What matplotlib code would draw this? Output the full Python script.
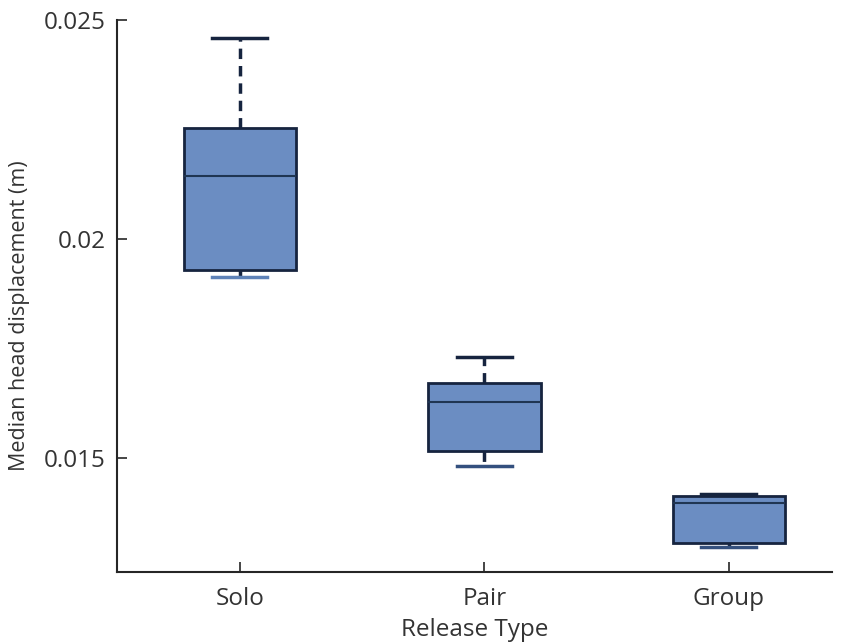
import matplotlib
matplotlib.use("Agg")
import matplotlib.pyplot as plt

plt.rcParams['font.family'] = ['Open Sans', 'DejaVu Sans']

# box statistics per release type (m)
groups = ['Solo', 'Pair', 'Group']
whisker_lo = [0.01913, 0.01482, 0.01297]
q1 = [0.01929, 0.01516, 0.01306]
median = [0.02144, 0.01628, 0.01397]
q3 = [0.02253, 0.01671, 0.01413]
whisker_hi = [0.02459, 0.01731, 0.01418]

stats = []
for i, name in enumerate(groups):
    stats.append({
        'label': name,
        'whislo': whisker_lo[i],
        'q1': q1[i],
        'med': median[i],
        'q3': q3[i],
        'whishi': whisker_hi[i],
        'fliers': [],
    })

fig = plt.figure(figsize=(8.6, 6.44), dpi=100)
ax = fig.add_axes([0.136, 0.112, 0.831, 0.857])

navy = '#16243f'
fill = '#6b8dc2'

bp = ax.bxp(stats, positions=[1, 2, 3], widths=0.46, capwidths=0.225,
            patch_artist=True, showfliers=False,
            boxprops=dict(facecolor=fill, edgecolor=navy, linewidth=2),
            medianprops=dict(color='#1f3552', linewidth=1.5),
            whiskerprops=dict(color=navy, linewidth=2.5, linestyle=(0, (3, 2))),
            capprops=dict(color=navy, linewidth=2.5))

# lower caps come out lighter
for cap in bp['caps'][0::2]:
    cap.set_color('#34507e')
bp['caps'][0].set_color('#5e82b8')

ax.set_xlim(0.497, 3.42)
ax.set_ylim(0.012397, 0.025)
ax.set_yticks([0.015, 0.02, 0.025])
ax.set_yticklabels(['0.015', '0.02', '0.025'])
ax.set_xticks([1, 2, 3])
ax.set_xticklabels(groups)

for side in ['top', 'right']:
    ax.spines[side].set_visible(False)
for side in ['left', 'bottom']:
    ax.spines[side].set_color('#262626')
    ax.spines[side].set_linewidth(1.5)

ax.tick_params(direction='in', length=7, width=1.2, colors='#262626',
               labelsize=17.5, labelcolor='#333333', pad=8)
ax.tick_params(axis='x', pad=11)

ax.set_xlabel('Release Type', fontsize=17.5, color='#333333')
ax.set_ylabel('Median head displacement (m)', fontsize=15.5, color='#333333')
ax.xaxis.set_label_coords(0.5, -0.083)
ax.yaxis.set_label_coords(-0.121, 0.465)

fig.savefig('out.png', dpi=100)
